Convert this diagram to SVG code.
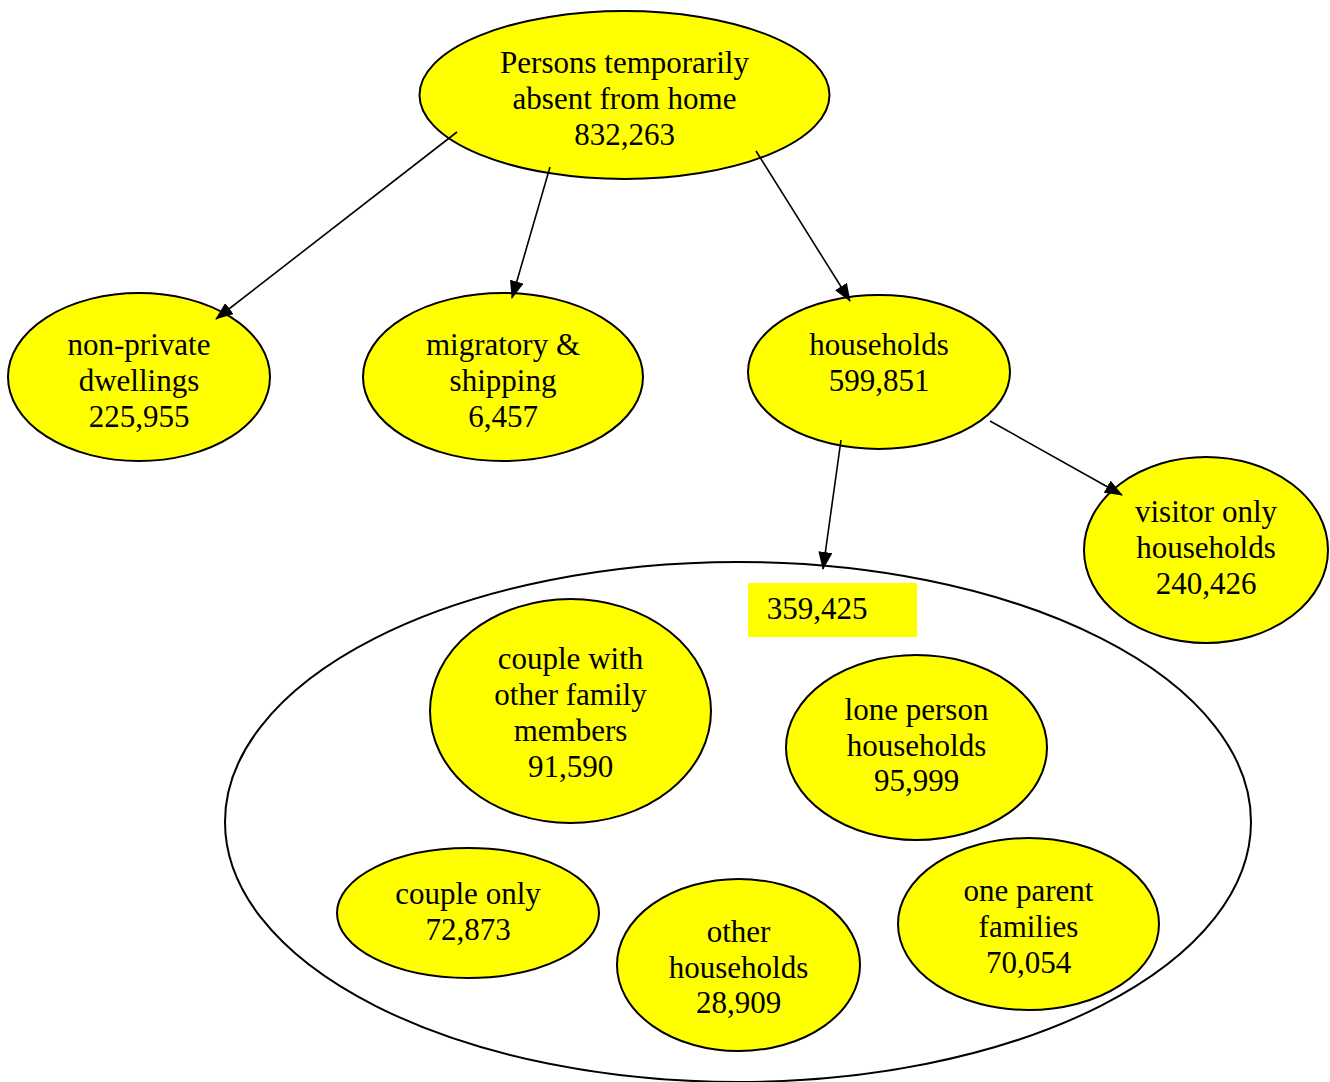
<svg xmlns="http://www.w3.org/2000/svg" width="1330" height="1082" viewBox="0 0 1330 1082">
<defs>
<style>
.n{fill:#ffff00;stroke:#000;stroke-width:2}
.t{font-family:"Liberation Serif","Times New Roman",serif;font-size:31px;fill:#000;text-anchor:middle}
.c{stroke:#000;stroke-width:1.6;fill:none;marker-end:url(#ah)}
</style>
<marker id="ah" markerWidth="18" markerHeight="14" refX="17" refY="7" orient="auto" markerUnits="userSpaceOnUse" viewBox="0 0 18 14">
<path d="M0,0 L18,7 L0,14 z" fill="#000"/>
</marker>
</defs>
<rect width="1330" height="1082" fill="#fff"/>
<g id="group-359425">
<ellipse cx="738" cy="822" rx="513" ry="260" fill="none" stroke="#000" stroke-width="2"/>
<rect x="748" y="583" width="169" height="54" fill="#ffff00"/>
<text class="t" x="817" y="619">359,425</text>
</g>
<g id="root"><ellipse class="n" cx="624.5" cy="95" rx="205" ry="84"/>
<text class="t"><tspan x="624.5" y="73">Persons temporarily</tspan><tspan x="624.5" y="109">absent from home</tspan><tspan x="624.5" y="145">832,263</tspan></text></g>
<g id="nonprivate"><ellipse class="n" cx="139" cy="377" rx="131" ry="84"/>
<text class="t"><tspan x="139" y="355">non-private</tspan><tspan x="139" y="391">dwellings</tspan><tspan x="139" y="427">225,955</tspan></text></g>
<g id="migratory"><ellipse class="n" cx="503" cy="377" rx="140" ry="84"/>
<text class="t"><tspan x="503" y="355">migratory &amp;</tspan><tspan x="503" y="391">shipping</tspan><tspan x="503" y="427">6,457</tspan></text></g>
<g id="households"><ellipse class="n" cx="879" cy="372" rx="131" ry="77"/>
<text class="t"><tspan x="879" y="355">households</tspan><tspan x="879" y="391">599,851</tspan></text></g>
<g id="visitor"><ellipse class="n" cx="1206" cy="550" rx="122" ry="93"/>
<text class="t"><tspan x="1206" y="522">visitor only</tspan><tspan x="1206" y="558">households</tspan><tspan x="1206" y="594">240,426</tspan></text></g>
<g id="couplewith"><ellipse class="n" cx="570.5" cy="711" rx="140.5" ry="112"/>
<text class="t"><tspan x="570.5" y="669">couple with</tspan><tspan x="570.5" y="705">other family</tspan><tspan x="570.5" y="741">members</tspan><tspan x="570.5" y="777">91,590</tspan></text></g>
<g id="loneperson"><ellipse class="n" cx="916.5" cy="747.5" rx="130.5" ry="92.5"/>
<text class="t"><tspan x="916.5" y="720">lone person</tspan><tspan x="916.5" y="756">households</tspan><tspan x="916.5" y="791">95,999</tspan></text></g>
<g id="coupleonly"><ellipse class="n" cx="468" cy="913" rx="131" ry="65"/>
<text class="t"><tspan x="468" y="904">couple only</tspan><tspan x="468" y="940">72,873</tspan></text></g>
<g id="other"><ellipse class="n" cx="738.5" cy="965" rx="121.5" ry="86"/>
<text class="t"><tspan x="738.5" y="942">other</tspan><tspan x="738.5" y="978">households</tspan><tspan x="738.5" y="1013">28,909</tspan></text></g>
<g id="oneparent"><ellipse class="n" cx="1028.5" cy="924" rx="130.5" ry="86"/>
<text class="t"><tspan x="1028.5" y="901">one parent</tspan><tspan x="1028.5" y="937">families</tspan><tspan x="1028.5" y="973">70,054</tspan></text></g>
<g id="connectors">
<line class="c" x1="457" y1="132" x2="216" y2="319"/>
<line class="c" x1="550" y1="167" x2="512" y2="298"/>
<line class="c" x1="756" y1="151" x2="850" y2="301"/>
<line class="c" x1="841" y1="440" x2="823" y2="569"/>
<line class="c" x1="990" y1="421" x2="1122" y2="495"/>
</g>
</svg>
